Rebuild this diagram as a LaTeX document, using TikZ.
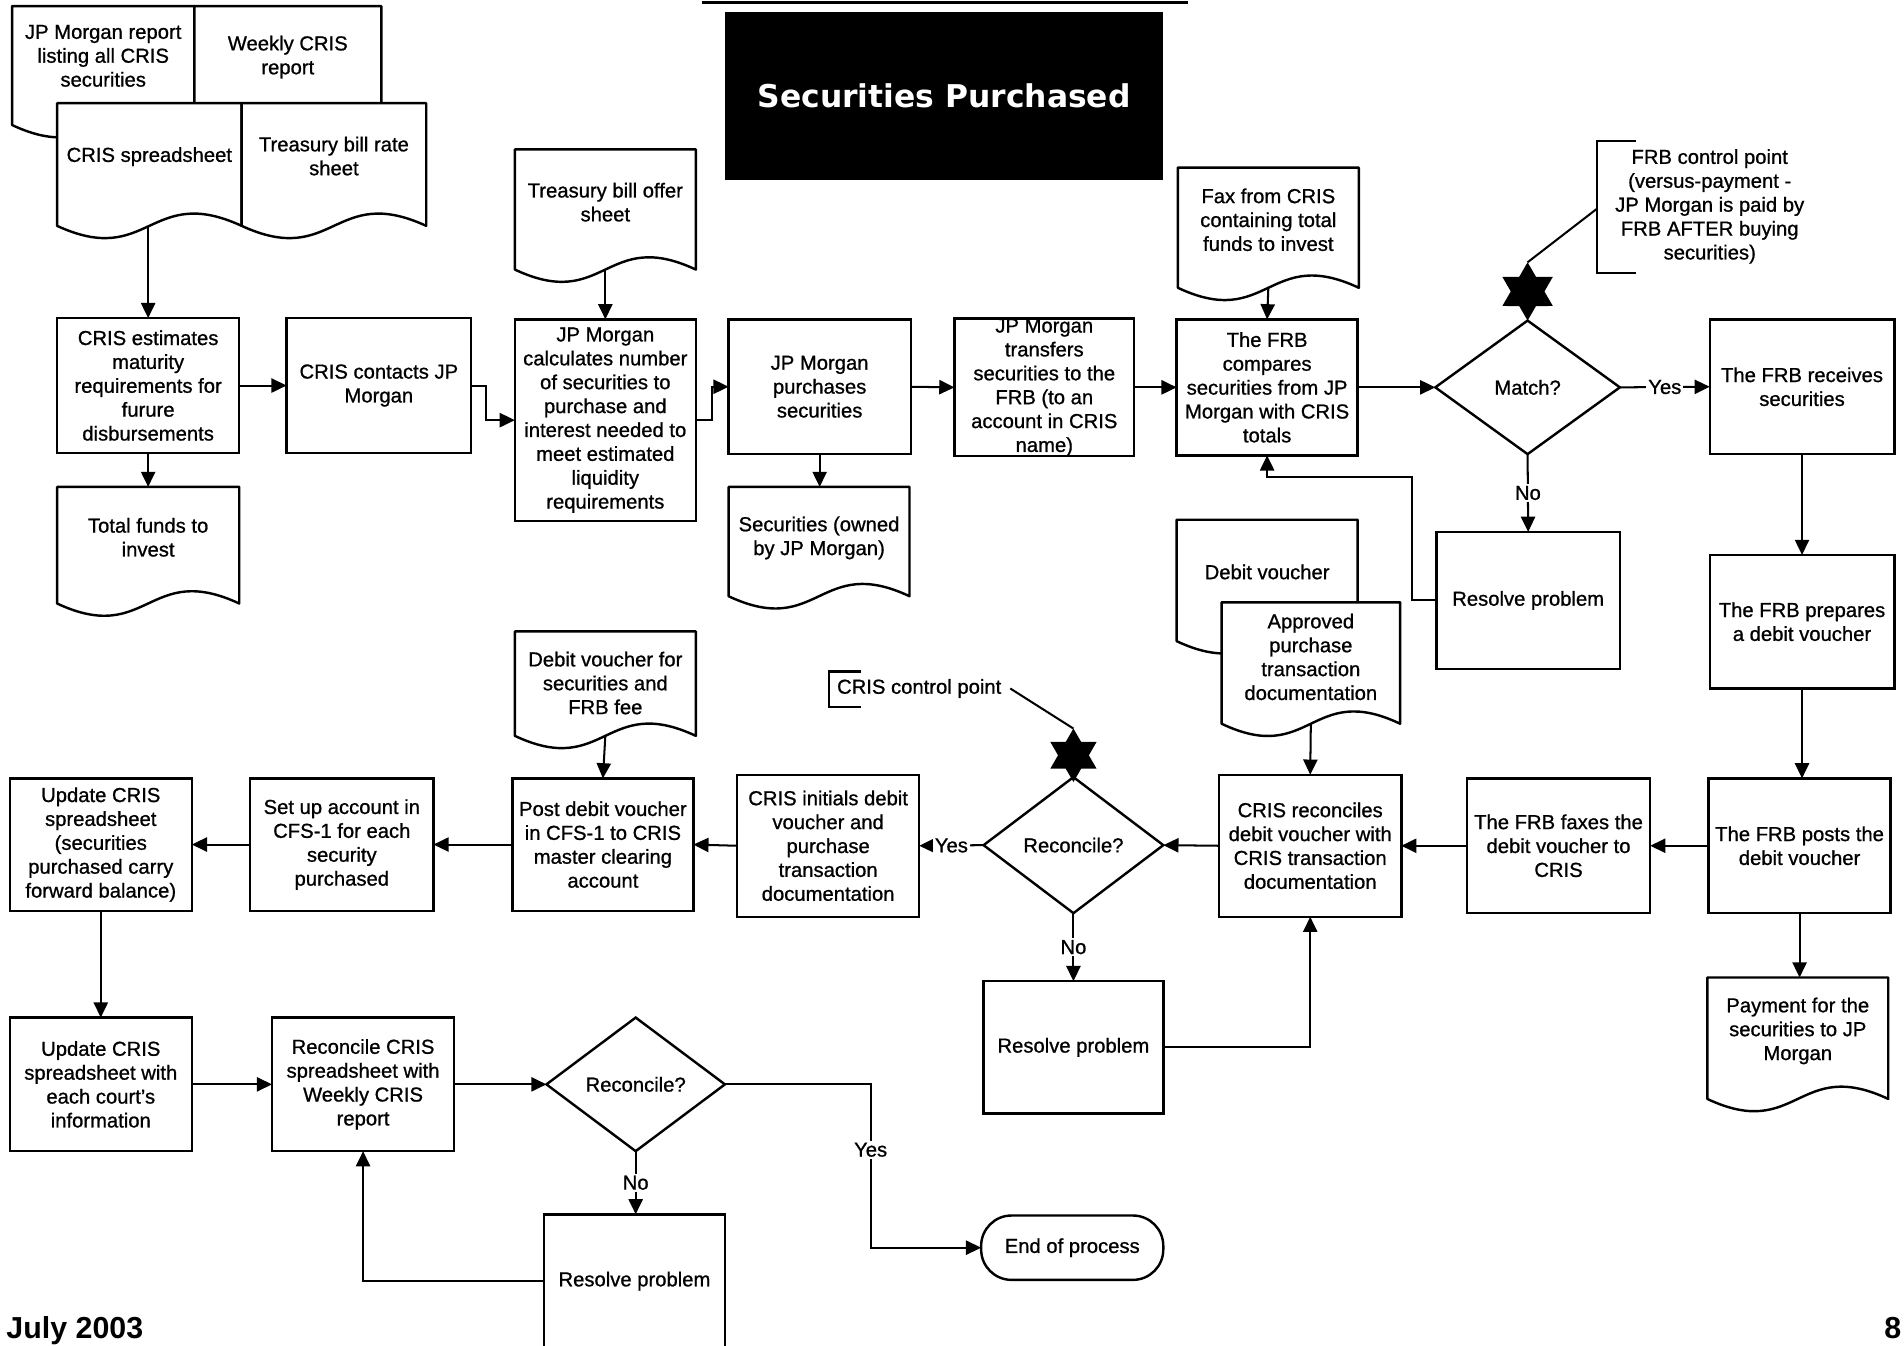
\documentclass[tikz,border=0pt]{standalone}
\usepackage{fontspec}
\setmainfont{Liberation Sans}[FakeBold=0.9]
\newfontfamily\titlefamily{DejaVu Sans}
\newfontfamily\footfamily{Liberation Sans}
\usetikzlibrary{arrows.meta,shapes.geometric,calc}
\newcommand{\boxfont}{\fontsize{10}{11.8}\selectfont}
\tikzset{
  bx/.style={draw, line width=1.2pt, inner sep=0pt, outer sep=0pt, align=center, font=\boxfont, fill=white},
  dm/.style={diamond, draw, line width=1.2pt, inner sep=0pt, outer sep=0pt, align=center, font=\boxfont, fill=white},
  docarea/.style={inner sep=0pt, outer sep=0pt},
  docline/.style={line width=1.2pt, fill=white, line join=round},
  txt/.style={align=center, font=\boxfont, inner sep=0pt},
  arr/.style={line width=1pt, -{Triangle[length=7.5pt,width=7pt]}},
  ln/.style={line width=1pt},
  lbl/.style={fill=white, font=\boxfont, inner sep=1pt},
  hexstar/.style={star, star points=6, star point ratio=1.732, fill=black, draw=none, inner sep=0pt, outer sep=0pt},
}
\newcommand{\bxx}[6]{\node[bx, minimum width={(#4-#2)*0.6pt}, minimum height={(#5-#3)*0.6pt}] (#1) at ({(#2+#4)/2},{(#3+#5)/2}) {#6};}
\newcommand{\dmm}[6]{\node[dm, minimum width={#4*0.6pt}, minimum height={#5*0.6pt}] (#1) at (#2,#3) {#6};}
\newcommand{\docu}[7]{%
  \node[docarea, minimum width={(#4-#2)*0.6pt}, minimum height={(#5-#3)*0.6pt}] (#1) at ({(#2+#4)/2},{(#3+#5)/2}) {};
  \draw[docline] (#1.south west) -- (#1.north west) -- (#1.north east) -- (#1.south east) .. controls ($(#1.south)+(0,-35)$) and ($(#1.south)+(0,35)$) .. (#1.south west) -- cycle;
  \node[txt] (#1-t) at ({(#2+#4)/2},#6) {#7};}
\begin{document}
\begin{tikzpicture}[x=0.6pt,y=-0.6pt]
\useasboundingbox (0,0) rectangle (1568,1108);
\clip (0,0) rectangle (1568,1108);
\fill[white] (0,0) rectangle (1568,1108);

% title
\draw[line width=1.8pt] (578,2) -- (978,2);
\node[fill=black, inner sep=0pt, minimum width={361*0.6pt}, minimum height={138*0.6pt}, text=white,
  font=\titlefamily\bfseries\fontsize{15.5}{18}\selectfont] (title) at (777.5,79) {Securities Purchased};

% documents
\docu{jpr}{10}{5}{160}{103}{46}{JP Morgan report\\listing all CRIS\\securities}
\docu{wk}{160}{5}{314}{103}{47}{Weekly CRIS\\report}
\docu{crs}{47}{85}{199}{186}{129}{CRIS spreadsheet}
\docu{tbr}{199}{85}{351}{186}{128.5}{Treasury bill rate\\sheet}
\docu{tf}{47}{401}{197}{497}{442.5}{Total funds to\\invest}
\docu{tbo}{424}{123}{573}{222}{166.5}{Treasury bill offer\\sheet}
\docu{sec}{600}{401}{749}{491}{443}{Securities (owned\\by JP Morgan)}
\docu{fax}{970}{138}{1119}{237}{181}{Fax from CRIS\\containing total\\funds to invest}
\docu{dv}{969}{428}{1118}{528}{471}{Debit voucher}
\docu{appr}{1006}{496}{1153}{596}{541}{Approved\\purchase\\transaction\\documentation}
\docu{dvs}{424}{520}{573}{606}{562.5}{Debit voucher for\\securities and\\FRB fee}
\docu{pay}{1406}{805}{1555}{905}{849}{Payment for the\\securities to JP\\Morgan}

% process boxes
\bxx{est}{47}{262}{197}{373}{CRIS estimates\\maturity\\requirements for\\furure\\disbursements}
\bxx{cont}{236}{262}{388}{373}{CRIS contacts JP\\Morgan}
\bxx{calc}{424}{263}{573}{429}{JP Morgan\\calculates number\\of securities to\\purchase and\\interest needed to\\meet estimated\\liquidity\\requirements}
\bxx{purch}{600}{263}{750}{374}{JP Morgan\\purchases\\securities}
\bxx{transf}{786}{263}{934}{375}{JP Morgan\\transfers\\securities to the\\FRB (to an\\account in CRIS\\name)}
\bxx{cmp}{969}{263}{1118}{375}{The FRB\\compares\\securities from JP\\Morgan with CRIS\\totals}
\dmm{match}{1258}{319}{152}{110}{Match?}
\bxx{recv}{1408}{263}{1560}{374}{The FRB receives\\securities}
\bxx{res1}{1183}{438}{1334}{551}{Resolve problem}
\bxx{prep}{1408}{457}{1560}{567}{The FRB prepares\\a debit voucher}
\bxx{post}{1407}{641}{1557}{752}{The FRB posts the\\debit voucher}
\bxx{faxes}{1208}{641}{1359}{752}{The FRB faxes the\\debit voucher to\\CRIS}
\bxx{recn}{1004}{638}{1154}{755}{CRIS reconciles\\debit voucher with\\CRIS transaction\\documentation}
\dmm{rec1}{884}{696}{148}{112}{Reconcile?}
\bxx{res2}{810}{808}{958}{917}{Resolve problem}
\bxx{init}{607}{638}{757}{755}{CRIS initials debit\\voucher and\\purchase\\transaction\\documentation}
\bxx{postdv}{422}{641}{571}{750}{Post debit voucher\\in CFS-1 to CRIS\\master clearing\\account}
\bxx{setup}{206}{641}{357}{750}{Set up account in\\CFS-1 for each\\security\\purchased}
\bxx{upd1}{8}{641}{158}{750}{Update CRIS\\spreadsheet\\(securities\\purchased carry\\forward balance)}
\bxx{upd2}{8}{838}{158}{948}{Update CRIS\\spreadsheet with\\each court's\\information}
\bxx{rcb}{224}{838}{374}{948}{Reconcile CRIS\\spreadsheet with\\Weekly CRIS\\report}
\dmm{rec2}{523.5}{893}{147}{110}{Reconcile?}
\bxx{res3}{448}{1000}{597}{1110}{Resolve problem}
\node[bx, rounded corners=15pt, minimum width={150*0.6pt}, minimum height={53*0.6pt}] (endp) at (883,1027.5) {End of process};

% control points
\node[hexstar, minimum size={48*0.6pt}] (star1) at (1258,240) {};
\node[hexstar, minimum size={44*0.6pt}] (star2) at (884,622) {};
\node[txt] (frbcp) at (1408,170) {FRB control point\\(versus-payment -\\JP Morgan is paid by\\FRB AFTER buying\\securities)};
\node[txt] (criscp) at (757,567) {CRIS control point};
\coordinate (cpb1) at (1315,172);
\coordinate (cpe2) at (832,567);
\draw[ln] (1347,116) -- (1315,116) -- (1315,225) -- (1347,225);
\draw[ln] (709,553) -- (683,553) -- (683,582) -- (709,582);
\draw[ln] (star1.north) -- (cpb1);
\draw[ln] (star2.north) -- (cpe2);

% connectors
\draw[arr] (est.north |- crs.south) -- (est.north);
\draw[arr] (est.south) -- (tf.north);
\draw[arr] (est.east) -- (cont.west);
\draw[arr] (cont.east) -- ++(12,0) |- (calc.west);
\draw[arr] (tbo.south) -- (calc.north);
\draw[arr] (calc.east) -- ++(13,0) |- (purch.west);
\draw[arr] (purch.south) -- (purch.south |- sec.north);
\draw[arr] (purch.east) -- (transf.west);
\draw[arr] (transf.east) -- (cmp.west);
\draw[arr] (fax.south) -- (cmp.north);
\draw[arr] (cmp.east) -- (match.west);
\draw[arr] (match.east) -- node[lbl] (myes) {Yes} (recv.west);
\draw[arr] (match.south) -- node[lbl] (mno) {No} (res1.north);
\draw[arr] (res1.west) -- ++(-20,0) |- ($(cmp.south)+(0,18)$) -- (cmp.south);
\draw[arr] (recv.south) -- (prep.north);
\draw[arr] (prep.south) -- (prep.south |- post.north);
\draw[arr] (post.south) -- (post.south |- pay.north);
\draw[arr] (post.west) -- (faxes.east);
\draw[arr] (faxes.west) -- (recn.east);
\draw[arr] (appr.south) -- (recn.north);
\draw[arr] (recn.west) -- (rec1.east);
\draw[arr] (rec1.west) -- node[lbl] (r1yes) {Yes} (init.east);
\draw[arr] (rec1.south) -- node[lbl] (r1no) {No} (res2.north);
\draw[arr] (res2.east) -| (recn.south);
\draw[arr] (init.west) -- (postdv.east);
\draw[arr] (dvs.south) -- (postdv.north);
\draw[arr] (postdv.west) -- (setup.east);
\draw[arr] (setup.west) -- (upd1.east);
\draw[arr] (upd1.south) -- (upd2.north);
\draw[arr] (upd2.east) -- (rcb.west);
\draw[arr] (rcb.east) -- (rec2.west);
\draw[arr] (rec2.east) -| node[lbl, pos=0.7] (r2yes) {Yes} ($(endp.west)+(-91,0)$) -- (endp.west);
\draw[arr] (rec2.south) -- node[lbl] (r2no) {No} (rec2.south |- res3.north);
\draw[arr] (res3.west) -| (rcb.south);

% footer
\node[anchor=base west, inner sep=0pt, font=\footfamily\bfseries\fontsize{15}{18}\selectfont] (date) at (5,1102) {July 2003};
\node[anchor=base east, inner sep=0pt, font=\footfamily\bfseries\fontsize{15}{18}\selectfont] (pgno) at (1566,1102) {8};
\end{tikzpicture}
\end{document}
